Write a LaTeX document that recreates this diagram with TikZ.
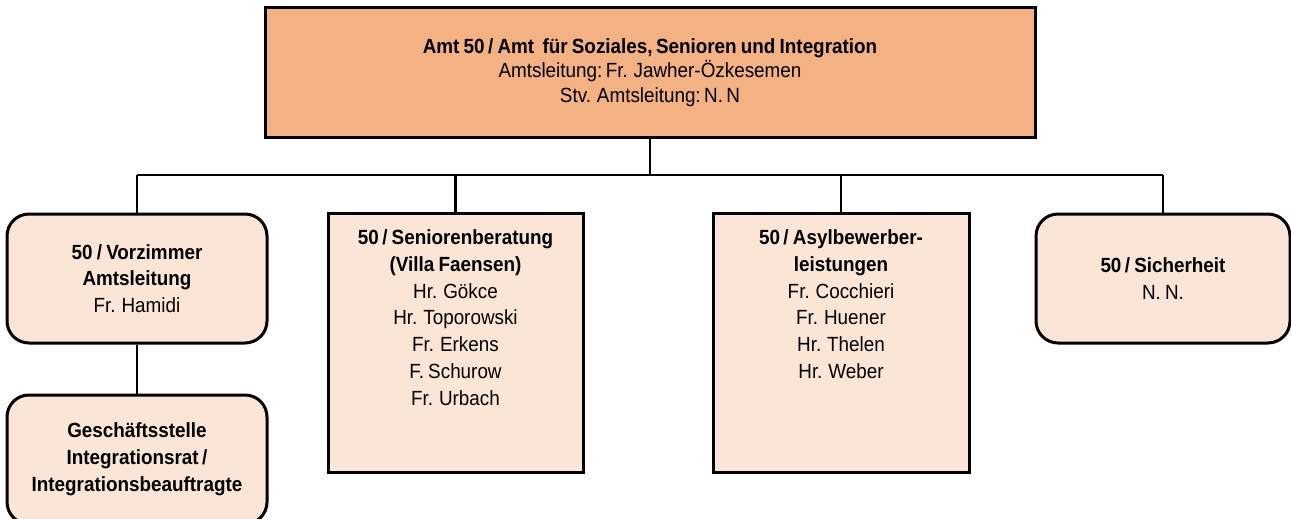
\documentclass[tikz,border=0pt]{standalone}
\usepackage{fontspec}
\setmainfont{Liberation Sans}[FakeStretch=0.92, WordSpace=0.8]
\definecolor{topfill}{HTML}{F4B183}
\definecolor{subfill}{HTML}{FBE5D6}
\tikzset{
  box/.style={draw=black, line width=3pt, inner sep=0pt},
  topbox/.style={box, fill=topfill, align=center, font=\fontsize{20.5}{24.5}\selectfont},
  subbox/.style={box, fill=subfill, align=center, font=\fontsize{20.5}{26.8}\selectfont},
  roundbox/.style={subbox, rounded corners=22pt},
  boxtext/.style={align=center, inner sep=0pt, anchor=north, font=\fontsize{20.5}{26.8}\selectfont},
  conn/.style={draw=black, line width=2.7pt}
}
\begin{document}
\begin{tikzpicture}[x=1pt,y=-1pt]
\clip (0,0) rectangle (1291,519);
\useasboundingbox (0,0) rectangle (1291,519);
\fill[white] (0,0) rectangle (1291,519);

\node[topbox, minimum width=770pt, minimum height=129pt] (top) at (650,72.5)
  {\textbf{Amt 50\,/ Amt\ \ für Soziales,\,Senioren und Integration}\\
   Amtsleitung:\,Fr. Jawher-Özkesemen\\
   Stv. Amtsleitung:\,N.\,N};

\node[roundbox, minimum width=260pt, minimum height=129pt] (vor) at (137,278.5)
  {\textbf{50 / Vorzimmer}\\ \textbf{Amtsleitung}\\ Fr. Hamidi};

\node[roundbox, minimum width=260pt, minimum height=129pt] (ges) at (137,459.5)
  {\textbf{Geschäftsstelle}\\ \textbf{Integrationsrat\,/}\\ \textbf{Integrationsbeauftragte}};

\node[subbox, minimum width=255pt, minimum height=259pt] (sen) at (455.5,342.5) {};
\node[boxtext] (sentext) at ([yshift=-18pt]sen.north)
  {\textbf{50\,/ Seniorenberatung}\\ \textbf{(Villa Faensen)}\\ Hr. Gökce\\ Hr. Toporowski\\ Fr. Erkens\\ F. Schurow\\ Fr. Urbach};

\node[subbox, minimum width=256pt, minimum height=259pt] (asy) at (841,342.5) {};
\node[boxtext] (asytext) at ([yshift=-18pt]asy.north)
  {\textbf{50\,/ Asylbewerber-}\\ \textbf{leistungen}\\ Fr. Cocchieri\\ Fr. Huener\\ Hr. Thelen\\ Hr. Weber};

\node[roundbox, minimum width=254pt, minimum height=129pt] (sich) at (1163,278.5)
  {\textbf{50\,/ Sicherheit}\\ N. N.};

\coordinate (bar) at (650,175);

\draw[conn] (top.south) -- (top.south |- bar);
\draw[conn] (vor.north |- bar) -- (sich.north |- bar);
\draw[conn] (vor.north |- bar) -- (vor.north);
\draw[conn] (sen.north |- bar) -- (sen.north);
\draw[conn] (asy.north |- bar) -- (asy.north);
\draw[conn] (sich.north |- bar) -- (sich.north);
\draw[conn] (vor.south) -- (ges.north);
\end{tikzpicture}
\end{document}
